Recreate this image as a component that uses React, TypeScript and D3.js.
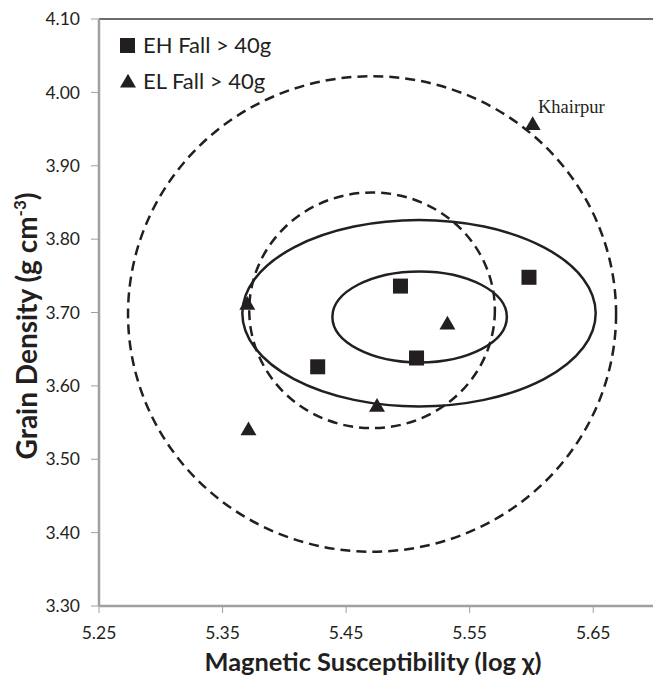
import React from "react";
import * as d3 from "d3";

// EH falls > 40g (squares)
const ehX = [5.427, 5.494, 5.507, 5.598];
const ehY = [3.626, 3.736, 3.638, 3.748];

// EL falls > 40g (triangles)
const elX = [5.370, 5.532, 5.475, 5.371, 5.601];
const elY = [3.710, 3.683, 3.571, 3.539, 3.955];

// ellipses: center x, center y, half-width (log chi), half-height (g/cm3)
const ellCx = [5.471, 5.471, 5.509, 5.5095];
const ellCy = [3.698, 3.703, 3.699, 3.694];
const ellRx = [0.1975, 0.0994, 0.143, 0.0706];
const ellRy = [0.324, 0.1606, 0.127, 0.062];
const ellDashed = [true, true, false, false];

const xTicks = [5.25, 5.35, 5.45, 5.55, 5.65];
const yTicks = [3.3, 3.4, 3.5, 3.6, 3.7, 3.8, 3.9, 4.0, 4.1];

const W = 653;
const H = 678;
const margin = { top: 19, right: -2, bottom: 72, left: 99 };

const font = "Lato, 'Open Sans', sans-serif";
const ink = "#231f20";

export default function App() {
  const x = d3.scaleLinear().domain([5.25, 5.7]).range([margin.left, W - margin.right]);
  const y = d3.scaleLinear().domain([3.3, 4.1]).range([H - margin.bottom, margin.top]);

  const tri = d3.symbol().type(d3.symbolTriangle).size(110)();
  const sq = 15;

  return (
    <svg width={W} height={H} style={{ position: "absolute", left: 0, top: 0, background: "#fff" }}>
      {/* ellipses */}
      {ellCx.map((c, i) => (
        <ellipse
          key={"e" + i}
          cx={x(c)}
          cy={y(ellCy[i])}
          rx={x(c + ellRx[i]) - x(c)}
          ry={y(ellCy[i] - ellRy[i]) - y(ellCy[i])}
          fill="none"
          stroke={ink}
          strokeWidth={2.5}
          strokeDasharray={ellDashed[i] ? "10 6" : undefined}
        />
      ))}

      {/* axes */}
      <line x1={margin.left} x2={W} y1={margin.top} y2={margin.top} stroke="#3a3a3a" strokeWidth={1.5} />
      <line x1={margin.left} x2={margin.left} y1={margin.top} y2={y(3.3)} stroke="#a0a0a0" strokeWidth={2.5} />
      <line x1={margin.left} x2={W} y1={y(3.3)} y2={y(3.3)} stroke="#a0a0a0" strokeWidth={2.5} />

      {yTicks.map((t) => (
        <g key={"y" + t}>
          <line x1={margin.left - 8} x2={margin.left} y1={y(t)} y2={y(t)} stroke="#a0a0a0" strokeWidth={1} />
          <text x={80} y={y(t)} dy="0.35em" textAnchor="end" fontFamily={font} fontSize={17.5} fill={ink}>
            {t.toFixed(2)}
          </text>
        </g>
      ))}
      {xTicks.map((t) => (
        <g key={"x" + t}>
          <line x1={x(t)} x2={x(t)} y1={y(3.3)} y2={y(3.3) + 7} stroke="#a0a0a0" strokeWidth={1} />
          <text x={x(t)} y={y(3.3) + 33} textAnchor="middle" fontFamily={font} fontSize={17.5} fill={ink}>
            {t.toFixed(2)}
          </text>
        </g>
      ))}

      {/* axis titles */}
      <text
        transform={`translate(37, ${326}) rotate(-90)`}
        textAnchor="middle"
        fontFamily={font}
        fontWeight="bold"
        fontSize={28}
        fill={ink}
      >
        Grain Density (g cm<tspan dy="-11" fontSize={17}>-3</tspan><tspan dy="11">)</tspan>
      </text>
      <text
        x={373}
        y={671}
        textAnchor="middle"
        fontFamily={font}
        fontWeight="bold"
        fontSize={25}
        fill={ink}
        textLength={337}
        lengthAdjust="spacingAndGlyphs"
      >
        Magnetic Susceptibility (log χ)
      </text>

      {/* points */}
      {ehX.map((v, i) => (
        <rect key={"s" + i} x={x(v) - sq / 2} y={y(ehY[i]) - sq / 2} width={sq} height={sq} fill={ink} />
      ))}
      {elX.map((v, i) => (
        <path key={"t" + i} d={tri} transform={`translate(${x(v)},${y(elY[i])})`} fill={ink} />
      ))}
      <text x={538} y={113} fontFamily="'Liberation Serif', serif" fontSize={18.5} fill={ink}>
        Khairpur
      </text>

      {/* legend */}
      <rect x={120} y={38} width={15} height={15} fill={ink} />
      <text x={143} y={53} fontFamily={font} fontSize={22} fill={ink}>EH Fall &gt; 40g</text>
      <path d={tri} transform="translate(128,83)" fill={ink} />
      <text x={143} y={89} fontFamily={font} fontSize={22} fill={ink}>EL Fall &gt; 40g</text>
    </svg>
  );
}
